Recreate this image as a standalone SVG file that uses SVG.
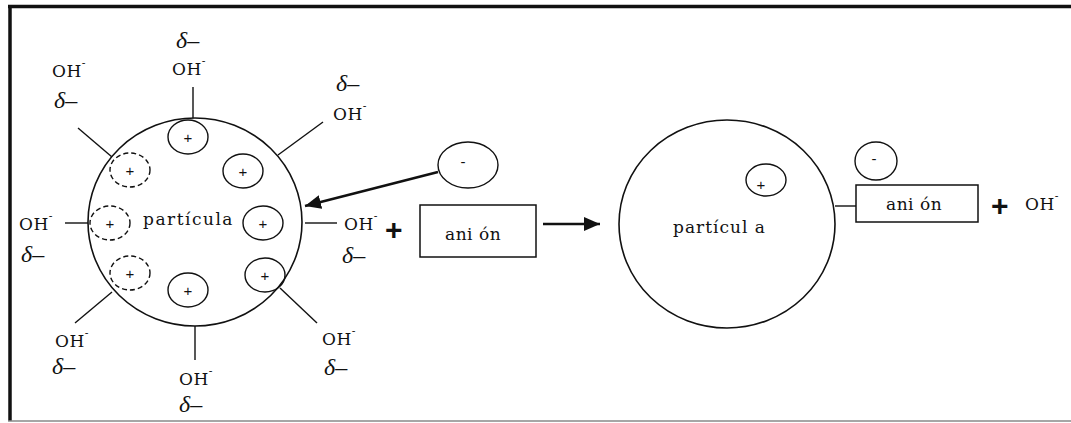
<svg xmlns="http://www.w3.org/2000/svg" width="1071" height="423" viewBox="0 0 1071 423">
<style>
.ln{stroke:#111;stroke-width:1.4;fill:none}
.big{stroke:#111;stroke-width:1.6;fill:none}
.sm{stroke:#111;stroke-width:1.4;fill:none}
.ds{stroke:#111;stroke-width:1.4;fill:none;stroke-dasharray:5 3}
.t{font-family:"DejaVu Serif","Liberation Serif",serif;font-size:17px;fill:#111}
.oh{font-family:"DejaVu Serif","Liberation Serif",serif;font-size:17px;fill:#111;letter-spacing:0.5px}
.d{font-family:"Liberation Serif",serif;font-style:italic;font-size:24px;fill:#111}
.pl{font-family:"Liberation Sans",sans-serif;font-size:15px;fill:#111;text-anchor:middle}
.bp{font-family:"Liberation Sans",sans-serif;font-size:30px;font-weight:bold;fill:#111}
.box{stroke:#111;stroke-width:1.5;fill:#fff}
.arr{stroke:#111;stroke-width:2.6;fill:none}
</style>
<defs>
<marker id="ah" markerUnits="userSpaceOnUse" markerWidth="18" markerHeight="14" refX="16" refY="7" orient="auto">
<path d="M0,0 L16,7 L0,14 Z" fill="#111"/>
</marker>
</defs>
<g id="frame">
<line x1="8" y1="6.5" x2="1071" y2="6.5" stroke="#111" stroke-width="3.5"/>
<line x1="10" y1="5" x2="10" y2="421" stroke="#111" stroke-width="3.5"/>
<line x1="8" y1="421" x2="1071" y2="421" stroke="#888" stroke-width="1.5"/>
</g>
<g id="particle-left">
<ellipse class="big" cx="195" cy="222" rx="107" ry="104"/>
<text class="t" x="143" y="225" letter-spacing="1.5">partícula</text>
<ellipse class="sm" cx="188" cy="137" rx="20" ry="17"/><text class="pl" x="188" y="143">+</text>
<ellipse class="ds" cx="130" cy="170" rx="20" ry="17"/><text class="pl" x="130" y="176">+</text>
<ellipse class="sm" cx="243" cy="171" rx="20" ry="17"/><text class="pl" x="243" y="177">+</text>
<ellipse class="ds" cx="110" cy="223" rx="20" ry="17"/><text class="pl" x="110" y="229">+</text>
<ellipse class="sm" cx="263" cy="223" rx="20" ry="17"/><text class="pl" x="263" y="229">+</text>
<ellipse class="ds" cx="130" cy="273" rx="20" ry="17"/><text class="pl" x="130" y="279">+</text>
<ellipse class="sm" cx="188" cy="290" rx="20" ry="17"/><text class="pl" x="188" y="296">+</text>
<ellipse class="sm" cx="265" cy="275" rx="20" ry="17"/><text class="pl" x="265" y="281">+</text>
</g>
<g id="oh-top">
<line class="ln" x1="193" y1="87" x2="193" y2="118"/>
<text class="oh" x="172" y="75">OH<tspan font-size="11" dy="-10">-</tspan></text>
<text class="d" x="176" y="48">δ–</text>
</g>
<g id="oh-upper-left">
<line class="ln" x1="78" y1="128" x2="112" y2="157"/>
<text class="oh" x="52" y="77">OH<tspan font-size="11" dy="-10">-</tspan></text>
<text class="d" x="54" y="108">δ–</text>
</g>
<g id="oh-upper-right">
<line class="ln" x1="278" y1="155" x2="323" y2="122"/>
<text class="oh" x="333" y="120">OH<tspan font-size="11" dy="-10">-</tspan></text>
<text class="d" x="336" y="91">δ–</text>
</g>
<g id="oh-left">
<line class="ln" x1="65" y1="223" x2="88" y2="223"/>
<text class="oh" x="19" y="230">OH<tspan font-size="11" dy="-10">-</tspan></text>
<text class="d" x="21" y="262">δ–</text>
</g>
<g id="oh-right">
<line class="ln" x1="305" y1="223" x2="337" y2="223"/>
<text class="oh" x="344" y="230">OH<tspan font-size="11" dy="-10">-</tspan></text>
<text class="d" x="342" y="263">δ–</text>
</g>
<g id="oh-lower-left">
<line class="ln" x1="112" y1="292" x2="75" y2="323"/>
<text class="oh" x="55" y="347">OH<tspan font-size="11" dy="-10">-</tspan></text>
<text class="d" x="52" y="374">δ–</text>
</g>
<g id="oh-bottom">
<line class="ln" x1="195" y1="326" x2="195" y2="360"/>
<text class="oh" x="179" y="385">OH<tspan font-size="11" dy="-10">-</tspan></text>
<text class="d" x="179" y="412">δ–</text>
</g>
<g id="oh-lower-right">
<line class="ln" x1="280" y1="288" x2="317" y2="323"/>
<text class="oh" x="322" y="345">OH<tspan font-size="11" dy="-10">-</tspan></text>
<text class="d" x="324" y="375">δ–</text>
</g>
<g id="plus-1"><text class="bp" x="385" y="240">+</text></g>
<g id="anion-box-left">
<rect class="box" x="420" y="205" width="116" height="52"/>
<text class="t" x="445" y="240" letter-spacing="0.5">ani ón</text>
</g>
<g id="anion-charge-left">
<ellipse class="sm" cx="468" cy="165" rx="30" ry="23"/>
<text class="pl" x="463" y="167" font-size="11">-</text>
</g>
<g id="particle-right">
<ellipse class="big" cx="727" cy="224" rx="108" ry="104"/>
<text class="t" x="673" y="233" letter-spacing="1">partícul a</text>
<ellipse class="sm" cx="766" cy="180" rx="20" ry="16"/>
<text class="pl" x="761" y="190">+</text>
</g>
<g id="anion-box-right">
<rect class="box" x="856" y="185" width="122" height="37"/>
<text class="t" x="886" y="210" letter-spacing="0.5">ani ón</text>
</g>
<g id="anion-charge-right">
<ellipse class="sm" cx="876" cy="161" rx="21" ry="19"/>
<text class="pl" x="874" y="164" font-size="11">-</text>
</g>
<g id="product-oh">
<text class="bp" x="991" y="216">+</text>
<text class="oh" x="1025" y="210" font-size="16">OH<tspan font-size="11" dy="-10">-</tspan></text>
</g>
<g id="connectors">
<line class="arr" x1="438" y1="172" x2="305" y2="206" marker-end="url(#ah)"/>
<line class="arr" x1="543" y1="224" x2="600" y2="224" marker-end="url(#ah)"/>
<line class="ln" x1="835" y1="206" x2="856" y2="206"/>
</g>
</svg>
